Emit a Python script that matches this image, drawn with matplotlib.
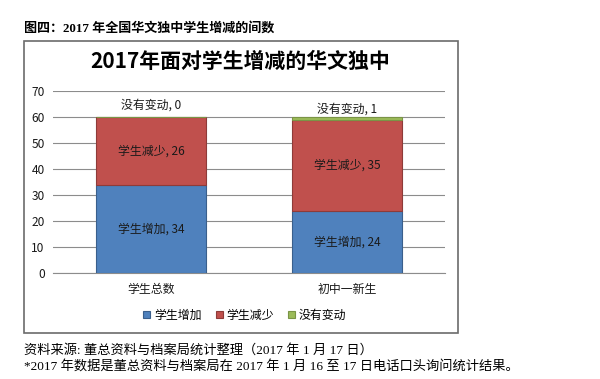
import matplotlib
matplotlib.use("Agg")
import matplotlib.pyplot as plt
from matplotlib.patches import Rectangle
import numpy as np

plt.rcParams['font.family'] = ['Noto Sans CJK SC', 'DejaVu Sans']

categories = ['学生总数', '初中一新生']
series_names = ['学生增加', '学生减少', '没有变动']
increase = [34, 24]
decrease = [26, 35]
unchanged = [0, 1]
colors = ['#4F81BD', '#C0504D', '#9BBB59']
edges = ['#3A5F8C', '#8E3B39', '#7A9446']
yticks = [0, 10, 20, 30, 40, 50, 60, 70]

fig = plt.figure(figsize=(6, 3.79), dpi=100)
fig.patch.set_facecolor('white')

# chart frame
fig.patches.append(Rectangle((0.040, 0.1214), 0.723, 0.7704, transform=fig.transFigure,
                             fill=False, edgecolor='#6b6b6b', linewidth=1.2))

ax = fig.add_axes([0.0883, 0.2797, 0.6534, 0.4802])
x = np.arange(len(categories))
w = 0.56
data = [increase, decrease, unchanged]
bottom = np.zeros(len(categories))
bars = []
for vals, name, c, e in zip(data, series_names, colors, edges):
    b = ax.bar(x, vals, w, bottom=bottom, color=c, edgecolor=e, linewidth=0.8,
               label=name, zorder=3)
    bars.append((b, vals, bottom.copy(), name))
    bottom = bottom + np.array(vals)

for i, (b, vals, bot, name) in enumerate(bars):
    for j, v in enumerate(vals):
        if i < 2:
            ax.text(x[j], bot[j] + v / 2, f'{name}, {v}', ha='center', va='center',
                    fontsize=8.6, color='#1a1a1a', zorder=5)
        else:
            ax.annotate(f'{name}, {v}', (x[j], bot[j] + v), xytext=(0, 1.0 if v else 4),
                        textcoords='offset points', ha='center', va='bottom',
                        fontsize=8.6, color='#1a1a1a', zorder=5)

ax.set_xlim(-0.5, 1.5)
ax.set_ylim(0, 70)
ax.set_yticks(yticks)
ax.yaxis.grid(True, color='#8c8c8c', linewidth=0.8, zorder=0)
ax.set_axisbelow(True)
for s in ['top', 'right', 'left']:
    ax.spines[s].set_visible(False)
ax.spines['bottom'].set_color('#8c8c8c')
ax.tick_params(axis='y', length=0, labelsize=8.6, pad=6, colors='#1a1a1a')
ax.set_xticks(x)
ax.set_xticklabels(categories)
ax.tick_params(axis='x', length=0, labelsize=8.6, pad=7, colors='#1a1a1a')

leg = fig.legend(loc='center', bbox_to_anchor=(0.408, 0.168), ncol=3, frameon=False,
                 fontsize=8.6, handlelength=0.6, handleheight=0.6, handletextpad=0.3,
                 columnspacing=1.2)

fig.text(0.40, 0.838, '2017年面对学生增减的华文独中', ha='center', va='center',
         fontsize=15, fontweight='bold', color='#000000')

serif = ['Liberation Serif', 'Noto Sans CJK SC']
fig.text(0.040, 0.926, '图四：2017 年全国华文独中学生增减的间数', ha='left', va='center',
         fontsize=9.4, fontweight='bold', family=serif)
fig.text(0.040, 0.0765, '资料来源: 董总资料与档案局统计整理（2017 年 1 月 17 日）', ha='left', va='center',
         fontsize=9.5, family=serif)
fig.text(0.040, 0.0343, '*2017 年数据是董总资料与档案局在 2017 年 1 月 16 至 17 日电话口头询问统计结果。',
         ha='left', va='center', fontsize=9.5, family=serif)

fig.savefig('out.png', dpi=100)
